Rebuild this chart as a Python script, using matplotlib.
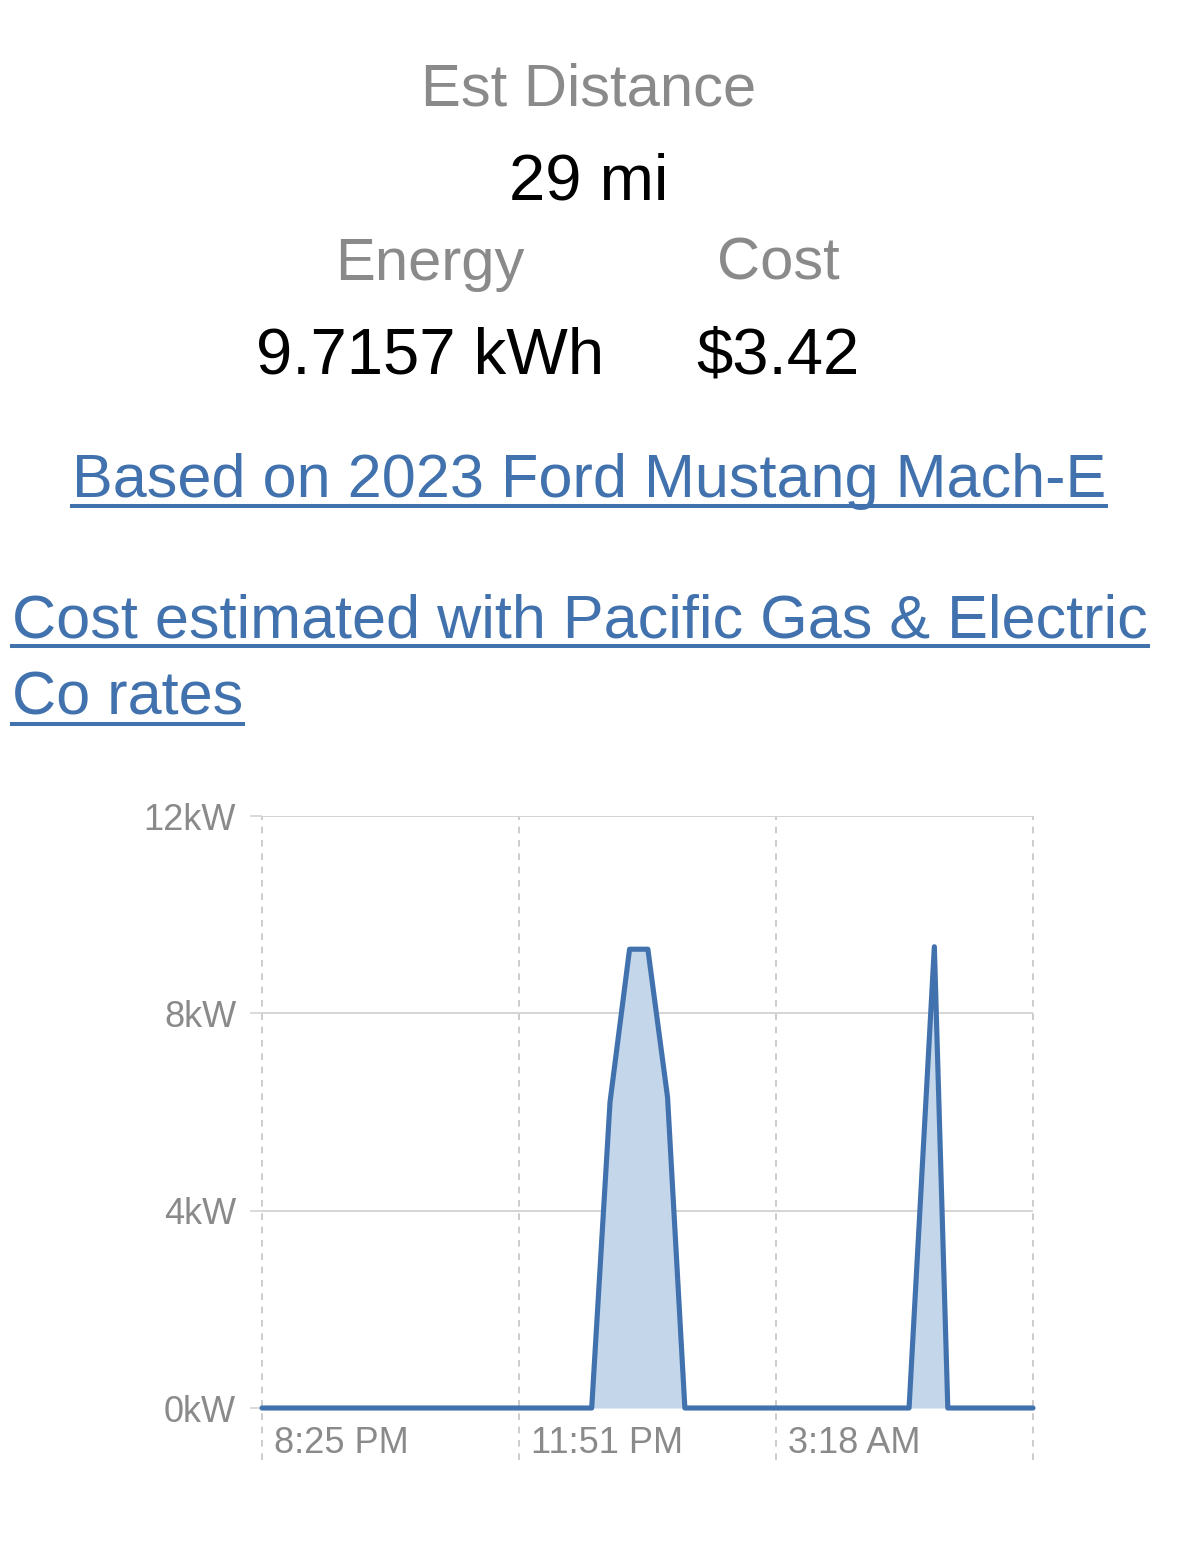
import matplotlib
matplotlib.use("Agg")
import matplotlib.pyplot as plt
from matplotlib.lines import Line2D
from matplotlib.transforms import ScaledTranslation

# charging session, minutes after 8:25 PM and power in kW
minutes = [0, 264.7, 279.4, 295.1, 309.8, 325.6, 339.5, 519.5, 539.8, 550.6, 619]
power_kw = [0, 0, 6.2, 9.3, 9.3, 6.3, 0, 0, 9.35, 0, 0]

y_ticks = [0, 4, 8, 12]
x_grid = [0, 206, 413, 619]
x_labels = ["8:25 PM", "11:51 PM", "3:18 AM"]

summary_labels = ["Energy", "Cost"]
summary_values = ["9.7157 kWh", "$3.42"]
distance = "29 mi"

W, H = 1178, 1545
BLUE = "#4172ae"
FILL = "#c3d6ea"
GRAY = "#8a8a8a"
FONT = "Liberation Sans"

plt.rcParams["font.family"] = [FONT, "DejaVu Sans"]

fig = plt.figure(figsize=(W / 100, H / 100), dpi=100)


def fx(x):
    return x / W


def fy(y):
    return 1 - y / H


# header block
fig.text(fx(589), fy(105), "Est Distance", ha="center", va="baseline", fontsize=43, color=GRAY)
fig.text(fx(589), fy(199), distance, ha="center", va="baseline", fontsize=47, color="black")
for cx, lab, val in zip([430, 778], summary_labels, summary_values):
    fig.text(fx(cx), fy(280), lab, ha="center", va="baseline", fontsize=43, color=GRAY)
    fig.text(fx(cx), fy(373), val, ha="center", va="baseline", fontsize=47, color="black")

# link texts with underlines
links = [
    (589, 497, "Based on 2023 Ford Mustang Mach-E", "center"),
    (12, 637, "Cost estimated with Pacific Gas & Electric", "left"),
    (12, 715, "Co rates", "left"),
]
link_texts = []
for x, y, s, ha in links:
    t = fig.text(fx(x), fy(y), s, ha=ha, va="baseline", fontsize=44, color=BLUE)
    link_texts.append((t, y))

fig.canvas.draw()
renderer = fig.canvas.get_renderer()
for t, y in link_texts:
    bb = t.get_window_extent(renderer)
    fig.add_artist(Line2D([fx(bb.x0), fx(bb.x1)], [fy(y + 9), fy(y + 9)],
                          transform=fig.transFigure, color=BLUE, lw=2.9))

# chart
ax = fig.add_axes([fx(262), fy(1408), fx(1033) - fx(262), (1408 - 816) / H])
ax.set_xlim(x_grid[0], x_grid[-1])
ax.set_ylim(0, 12)
for s in ax.spines.values():
    s.set_visible(False)

ax.set_yticks(y_ticks, [f"{v}kW" for v in y_ticks])
ax.grid(axis="y", color="#d4d4d4", lw=1.4)
ax.tick_params(axis="y", length=8.6, width=1.2, color="#d4d4d4", pad=10,
               labelsize=26, labelcolor=GRAY)

ax.vlines(x_grid, -1.05, 12, colors="#c4c4c4", lw=1.2,
          linestyles=(0, (4, 4)), clip_on=False, zorder=1)

ax.set_xticks(x_grid[:3], x_labels)
ax.tick_params(axis="x", length=0, pad=13, labelsize=26, labelcolor=GRAY)
for lbl in ax.get_xticklabels():
    lbl.set_ha("left")
    lbl.set_transform(lbl.get_transform() + ScaledTranslation(0.12, 0, fig.dpi_scale_trans))

ax.fill_between(minutes, power_kw, 0, color=FILL, lw=0, zorder=2)
ax.plot(minutes, power_kw, color=BLUE, lw=3.7, solid_joinstyle="round",
        solid_capstyle="round", clip_on=False, zorder=3)

fig.savefig("out.png", dpi=100, facecolor="white")
